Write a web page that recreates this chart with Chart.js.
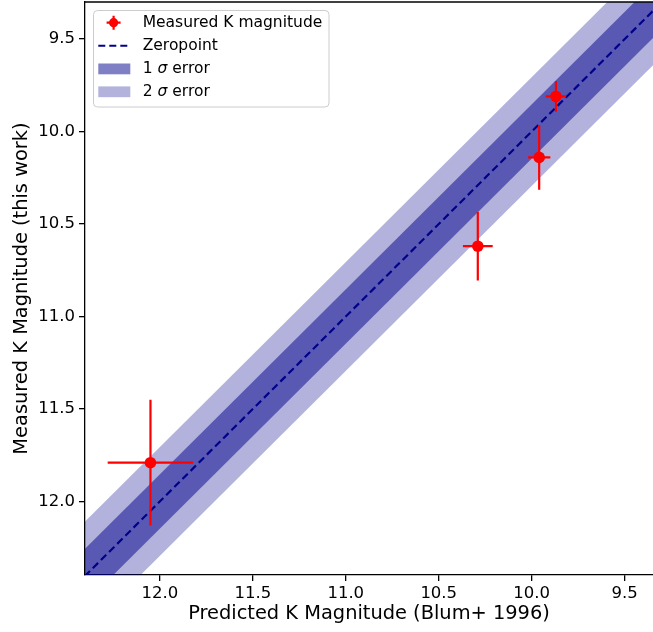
<!DOCTYPE html>
<html>
<head>
<meta charset="utf-8">
<script src="https://cdn.jsdelivr.net/npm/chart.js@4/dist/chart.umd.min.js"></script>
<style>
  html, body { margin: 0; padding: 0; background: #ffffff; }
  #wrap { width: 653px; height: 632px; }
</style>
</head>
<body>
<div id="wrap"><canvas id="c" width="653" height="632"></canvas></div>
<script>
// ---- data ----
const predK   = [12.05, 10.29, 9.96, 9.87];      // Predicted K (Blum+ 1996)
const measK   = [11.79, 10.62, 10.14, 9.81];     // Measured K (this work)
const predErr = [0.23, 0.08, 0.06, 0.055];       // x error
const measErr = [0.34, 0.185, 0.175, 0.083];     // y error
const sigma = 0.147;                              // 1 sigma band half-width
const lineRange = [9.0, 12.8];                    // extent of zeropoint line / bands
const xTicks = [12.0, 11.5, 11.0, 10.5, 10.0, 9.5];
const yTicks = [9.5, 10.0, 10.5, 11.0, 11.5, 12.0];
const xLimits = [9.348, 12.402];
const yLimits = [9.30, 12.397];

const FONT = "'DejaVu Sans', 'Liberation Sans', sans-serif";
const band2Color = 'rgba(0,0,139,0.3)';
const band1Color = 'rgba(0,0,139,0.5)';
const zeroColor = '#00008b';

const offsetLine = (d) => lineRange.map(v => ({ x: v, y: v + d }));

const errorBarPlugin = {
  id: 'errorBars',
  beforeDatasetDraw(chart, args) {
    if (args.index !== 5) return;
    const { ctx, chartArea } = chart;
    const xs = chart.scales.x, ys = chart.scales.y;
    ctx.save();
    ctx.beginPath();
    ctx.rect(chartArea.left, chartArea.top, chartArea.right - chartArea.left, chartArea.bottom - chartArea.top);
    ctx.clip();
    ctx.strokeStyle = '#ff0000';
    ctx.lineWidth = 2.2;
    for (let i = 0; i < predK.length; i++) {
      const px = xs.getPixelForValue(predK[i]);
      const py = ys.getPixelForValue(measK[i]);
      ctx.beginPath();
      ctx.moveTo(xs.getPixelForValue(predK[i] - predErr[i]), py);
      ctx.lineTo(xs.getPixelForValue(predK[i] + predErr[i]), py);
      ctx.moveTo(px, ys.getPixelForValue(measK[i] - measErr[i]));
      ctx.lineTo(px, ys.getPixelForValue(measK[i] + measErr[i]));
      ctx.stroke();
    }
    ctx.restore();
  }
};

const framePlugin = {
  id: 'frameTop',
  afterDraw(chart) {
    const { ctx, chartArea } = chart;
    ctx.save();
    ctx.strokeStyle = '#000';
    ctx.lineWidth = 1.3;
    ctx.beginPath();
    ctx.moveTo(chartArea.left - 0.65, chartArea.top);
    ctx.lineTo(chartArea.right + 2, chartArea.top);
    ctx.stroke();
    ctx.restore();
  }
};

const legendPlugin = {
  id: 'customLegend',
  afterDraw(chart) {
    const { ctx } = chart;
    const bx = 93.5, by = 10.5, bw = 235.5, bh = 96.5, r = 4;
    ctx.save();
    ctx.beginPath();
    ctx.moveTo(bx + r, by);
    ctx.lineTo(bx + bw - r, by);
    ctx.arcTo(bx + bw, by, bx + bw, by + r, r);
    ctx.lineTo(bx + bw, by + bh - r);
    ctx.arcTo(bx + bw, by + bh, bx + bw - r, by + bh, r);
    ctx.lineTo(bx + r, by + bh);
    ctx.arcTo(bx, by + bh, bx, by + bh - r, r);
    ctx.lineTo(bx, by + r);
    ctx.arcTo(bx, by, bx + r, by, r);
    ctx.closePath();
    ctx.fillStyle = 'rgba(255,255,255,0.8)';
    ctx.fill();
    ctx.strokeStyle = '#cccccc';
    ctx.lineWidth = 1;
    ctx.stroke();

    const rows = [22.7, 45.7, 68.9, 91.8];
    const hx0 = 98.3, hx1 = 130.3, hc = 113.6;
    // row 1: error bar marker
    ctx.strokeStyle = '#ff0000';
    ctx.lineWidth = 2.2;
    ctx.beginPath();
    ctx.moveTo(hc - 7, rows[0]); ctx.lineTo(hc + 7, rows[0]);
    ctx.moveTo(hc, rows[0] - 7); ctx.lineTo(hc, rows[0] + 7);
    ctx.stroke();
    ctx.fillStyle = '#ff0000';
    ctx.beginPath(); ctx.arc(hc, rows[0], 4.6, 0, Math.PI * 2); ctx.fill();
    // row 2: dashed line
    ctx.strokeStyle = zeroColor;
    ctx.lineWidth = 2;
    ctx.setLineDash([7, 4]);
    ctx.beginPath(); ctx.moveTo(hx0, rows[1]); ctx.lineTo(hx1, rows[1]); ctx.stroke();
    ctx.setLineDash([]);
    // rows 3-4: patches
    ctx.fillStyle = band1Color;
    ctx.fillRect(hx0, rows[2] - 5.4, hx1 - hx0, 10.8);
    ctx.fillStyle = band2Color;
    ctx.fillRect(hx0, rows[3] - 5.4, hx1 - hx0, 10.8);

    // texts
    const tx = 142.7;
    const fs = 15.5;
    ctx.fillStyle = '#000';
    ctx.textBaseline = 'middle';
    ctx.textAlign = 'left';
    ctx.font = fs + 'px ' + FONT;
    ctx.fillText('Measured K magnitude', tx, rows[0]);
    ctx.fillText('Zeropoint', tx, rows[1]);
    const sigmaLabel = (num, y) => {
      ctx.font = fs + 'px ' + FONT;
      let x = tx;
      const a = num + ' ';
      ctx.fillText(a, x, y); x += ctx.measureText(a).width;
      ctx.font = 'italic ' + fs + 'px ' + FONT;
      ctx.fillText('σ', x, y); x += ctx.measureText('σ').width;
      ctx.font = fs + 'px ' + FONT;
      ctx.fillText(' error', x, y);
    };
    sigmaLabel('1', rows[2]);
    sigmaLabel('2', rows[3]);
    ctx.restore();
  }
};

const setTicks = (arr) => (scale) => { scale.ticks = arr.map(v => ({ value: v })); };
const noPad = (s) => { s.paddingTop = 0; s.paddingBottom = 0; s.paddingLeft = 0; s.paddingRight = 0; };

new Chart(document.getElementById('c'), {
  type: 'scatter',
  data: {
    datasets: [
      { type: 'line', label: '2σ upper', data: offsetLine(-2 * sigma), borderColor: 'transparent', borderWidth: 0, pointRadius: 0, fill: false, order: 4 },
      { type: 'line', label: '2 σ error', data: offsetLine(2 * sigma), borderColor: 'transparent', borderWidth: 0, pointRadius: 0, fill: 0, backgroundColor: band2Color, order: 4 },
      { type: 'line', label: '1σ upper', data: offsetLine(-sigma), borderColor: 'transparent', borderWidth: 0, pointRadius: 0, fill: false, order: 3 },
      { type: 'line', label: '1 σ error', data: offsetLine(sigma), borderColor: 'transparent', borderWidth: 0, pointRadius: 0, fill: 2, backgroundColor: band1Color, order: 3 },
      { type: 'line', label: 'Zeropoint', data: offsetLine(0), borderColor: zeroColor, borderWidth: 2.2, borderDash: [7.5, 4], pointRadius: 0, fill: false, order: 2 },
      { type: 'scatter', label: 'Measured K magnitude', data: predK.map((v, i) => ({ x: v, y: measK[i] })), backgroundColor: '#ff0000', borderColor: '#ff0000', borderWidth: 0, pointRadius: 5.8, order: 1 }
    ]
  },
  options: {
    responsive: false,
    animation: false,
    devicePixelRatio: 1,
    events: [],
    layout: { autoPadding: false, padding: { top: 2, right: 0, left: 0, bottom: 0 } },
    plugins: { legend: { display: false }, tooltip: { enabled: false } },
    scales: {
      x: {
        type: 'linear', reverse: true, min: xLimits[0], max: xLimits[1],
        afterBuildTicks: setTicks(xTicks),
        afterFit: (s) => { s.height = 57; noPad(s); },
        grid: { display: true, drawOnChartArea: false, drawTicks: true, tickLength: 6, color: '#000', lineWidth: 1.3 },
        border: { display: true, color: '#000', width: 1.3 },
        ticks: { color: '#000', font: { family: FONT, size: 16.5 }, padding: 3, maxRotation: 0, autoSkip: false, callback: (v) => v.toFixed(1) },
        title: { display: true, text: 'Predicted K Magnitude (Blum+ 1996)', color: '#000', font: { family: FONT, size: 19.4 }, padding: { bottom: 6.5, top: 0 } }
      },
      y: {
        type: 'linear', reverse: true, min: yLimits[0], max: yLimits[1],
        afterBuildTicks: setTicks(yTicks),
        afterFit: (s) => { s.width = 85; noPad(s); },
        grid: { display: true, drawOnChartArea: false, drawTicks: true, tickLength: 6, color: '#000', lineWidth: 1.3 },
        border: { display: true, color: '#000', width: 1.3 },
        ticks: { color: '#000', font: { family: FONT, size: 16.5 }, padding: 4, autoSkip: false, callback: (v) => v.toFixed(1) },
        title: { display: true, text: 'Measured K Magnitude (this work)', color: '#000', font: { family: FONT, size: 19.4 }, padding: { top: 10, bottom: 0 } }
      }
    }
  },
  plugins: [errorBarPlugin, framePlugin, legendPlugin]
});
</script>
</body>
</html>
